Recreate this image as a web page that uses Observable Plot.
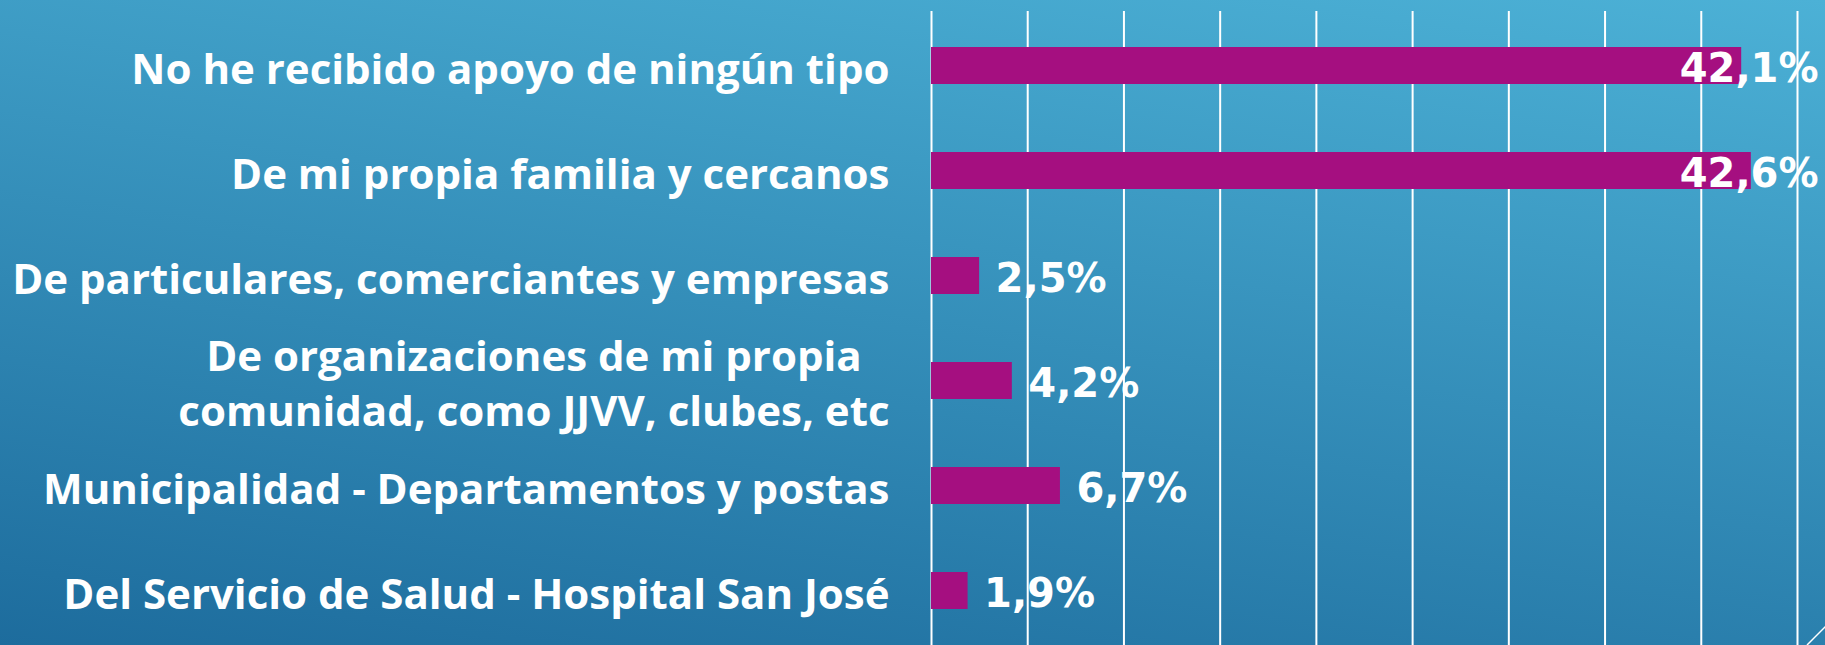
<!DOCTYPE html>
<html>
<head>
<meta charset="utf-8">
<script src="https://cdn.jsdelivr.net/npm/d3@7"></script>
<script src="https://cdn.jsdelivr.net/npm/@observablehq/plot@0.6"></script>
<style>
  html, body { margin: 0; padding: 0; }
  #slide {
    position: relative;
    width: 1825px; height: 645px; overflow: hidden;
    background: linear-gradient(188deg, #4cb1d6 0%, #1d6c9d 100%);
    color: white;
  }
  #slide svg { display: block; }
  #deco { position: absolute; right: 0; bottom: 0; }
</style>
</head>
<body>
<div id="slide"></div>
<script>
const categories = [
  "No he recibido apoyo de ningún tipo",
  "De mi propia familia y cercanos",
  "De particulares, comerciantes y empresas",
  "De organizaciones de mi propia\ncomunidad, como JJVV, clubes, etc",
  "Municipalidad - Departamentos y postas",
  "Del Servicio de Salud - Hospital San José"
];
const values = [42.1, 42.6, 2.5, 4.2, 6.7, 1.9];
const xTicks = [0, 5, 10, 15, 20, 25, 30, 35, 40, 45];

const data = categories.map((c, i) => ({label: c, value: values[i]}));
const fmt = v => v.toFixed(1).replace(".", ",") + "%";

const labelFont = "'Open Sans', 'DejaVu Sans', sans-serif";
const valueFont = "'DejaVu Sans', 'Open Sans', sans-serif";

const chart = Plot.plot({
  width: 1825,
  height: 645,
  marginLeft: 931,
  marginRight: 28,
  marginTop: 11,
  marginBottom: 0,
  style: {background: "transparent", color: "white", fontFamily: labelFont},
  x: {domain: [0, 45], axis: null},
  y: {domain: categories, paddingInner: 0.65, paddingOuter: 0.316, label: null},
  marks: [
    Plot.ruleX(xTicks, {x: d => d, stroke: "white", strokeWidth: 2}),
    Plot.barX(data, {x: "value", y: "label", fill: "#a50f80"}),
    Plot.axisY({
      tickSize: 0, tickPadding: 42, label: null,
      fontSize: 42, fontWeight: "bold", fontFamily: labelFont,
      fill: "white", lineHeight: 1.31
    }),
    Plot.text(data.filter(d => d.value < 40), {
      x: "value", y: "label", text: d => fmt(d.value),
      dx: 16, dy: 3, textAnchor: "start",
      fill: "white", fontSize: 40, fontWeight: "bold", fontFamily: valueFont
    }),
    Plot.text(data.filter(d => d.value >= 40), {
      y: "label", frameAnchor: "right", text: d => fmt(d.value),
      dx: 21, dy: 3, textAnchor: "end",
      fill: "white", fontSize: 40, fontWeight: "bold", fontFamily: valueFont
    })
  ]
});

document.getElementById("slide").appendChild(chart);

// Center multi-line axis labels relative to each other (right-aligned block)
chart.querySelectorAll("text").forEach(t => {
  const spans = t.querySelectorAll("tspan");
  if (spans.length > 1) {
    let w = 0;
    spans.forEach(s => { w = Math.max(w, s.getComputedTextLength()); });
    t.setAttribute("text-anchor", "middle");
    spans.forEach(s => s.setAttribute("x", -w / 2));
  }
});

// slide decoration (bottom-right corner line)
const ns = "http://www.w3.org/2000/svg";
const deco = document.createElementNS(ns, "svg");
deco.setAttribute("id", "deco");
deco.setAttribute("width", "40");
deco.setAttribute("height", "40");
const ln = document.createElementNS(ns, "line");
ln.setAttribute("x1", "22"); ln.setAttribute("y1", "40");
ln.setAttribute("x2", "62"); ln.setAttribute("y2", "0");
ln.setAttribute("stroke", "white"); ln.setAttribute("stroke-width", "1.5");
deco.appendChild(ln);
document.getElementById("slide").appendChild(deco);
</script>
</body>
</html>
